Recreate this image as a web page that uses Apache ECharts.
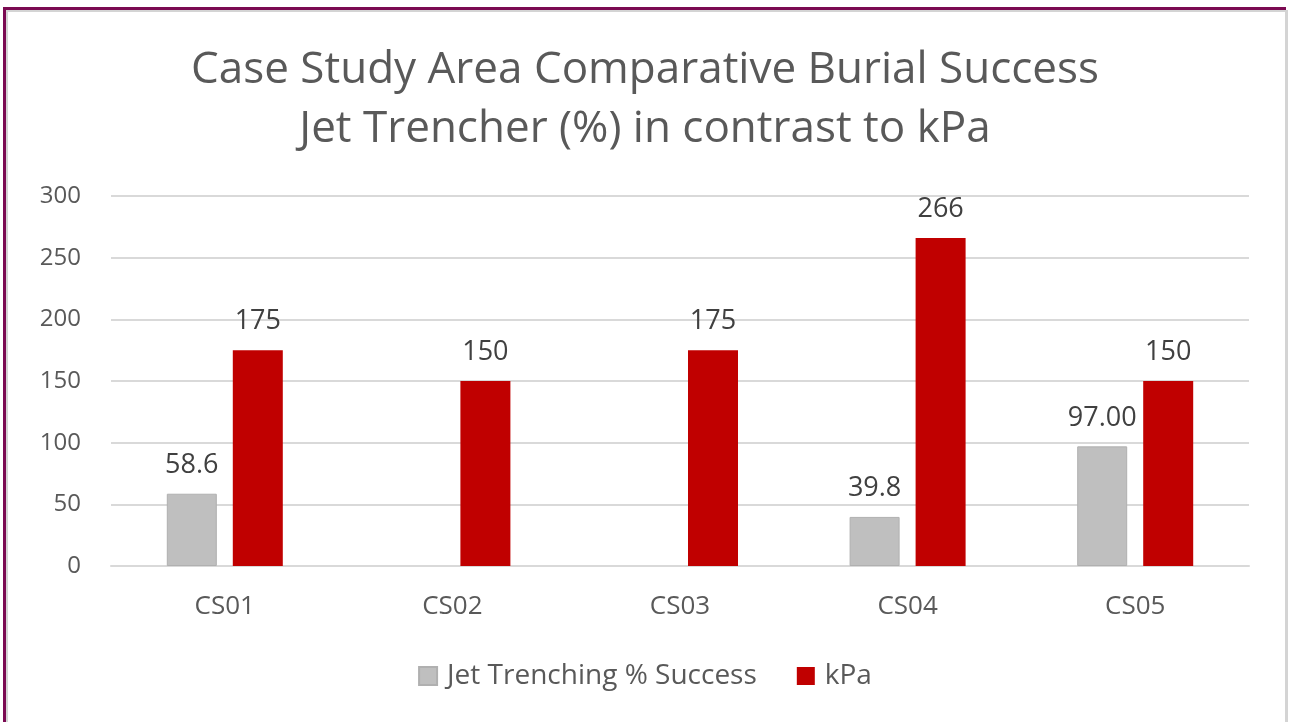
<!DOCTYPE html>
<html>
<head>
<meta charset="utf-8">
<script src="https://cdn.jsdelivr.net/npm/echarts@6/dist/echarts.min.js"></script>
<style>
  html, body { margin: 0; padding: 0; background: #fff; }
  #frame {
    position: absolute; left: 3px; top: 7px; width: 1283px; height: 720px;
    border-top: 3px solid #7b0a52; border-left: 3px solid #7b0a52;
    box-sizing: border-box;
  }
  #inner {
    position: absolute; left: 6px; top: 10px; width: 1282px; height: 712px;
    border-top: 2px solid #d4d4d4; border-left: 2px solid #d4d4d4; border-right: 3px solid #d4d4d4;
    box-sizing: border-box;
  }
  #main { position: absolute; left: 0; top: 0; width: 1290px; height: 722px; }
</style>
</head>
<body>
<div id="frame"></div>
<div id="inner"></div>
<div id="main"></div>
<script>
const categories = ["CS01", "CS02", "CS03", "CS04", "CS05"];
const jetSuccess = [58.6, null, null, 39.8, 97.0];
const jetLabels = ["58.6", "", "", "39.8", "97.00"];
const kpa = [175, 150, 175, 266, 150];

const font = "'Open Sans', 'Noto Sans', sans-serif";
const textGrey = "#595959";

const chart = echarts.init(document.getElementById("main"));

chart.setOption({
  animation: false,
  title: {
    text: "Case Study Area Comparative Burial Success\nJet Trencher (%) in contrast to kPa",
    left: "center",
    top: 36,
    textStyle: {
      fontFamily: font,
      fontSize: 44,
      fontWeight: "normal",
      color: textGrey,
      lineHeight: 59
    }
  },
  legend: {
    bottom: 27,
    left: "center",
    icon: "rect",
    itemWidth: 18,
    itemHeight: 18,
    itemGap: 40,
    textStyle: { fontFamily: font, fontSize: 28, color: textGrey, padding: [0, 0, 0, 5] },
    data: ["Jet Trenching % Success", "kPa"]
  },
  grid: { left: 111, right: 41, top: 196, bottom: 156 },
  xAxis: {
    type: "category",
    data: categories,
    axisTick: { show: false },
    axisLine: { lineStyle: { color: "#d9d9d9", width: 2 } },
    axisLabel: { fontFamily: font, fontSize: 26, color: textGrey, margin: 28 }
  },
  yAxis: {
    type: "value",
    min: 0,
    max: 300,
    interval: 50,
    axisLine: { show: false },
    axisTick: { show: false },
    splitLine: { lineStyle: { color: "#d9d9d9", width: 2 } },
    axisLabel: { fontFamily: font, fontSize: 24, color: textGrey, margin: 30 }
  },
  series: [
    {
      name: "Jet Trenching % Success",
      type: "bar",
      data: jetSuccess,
      barWidth: 50,
      barGap: "32%",
      itemStyle: { color: "#bfbfbf", borderColor: "#b0b0b0", borderWidth: 1 },
      label: {
        show: true,
        position: "top",
        distance: 15,
        fontFamily: font,
        fontSize: 27,
        color: "#404040",
        formatter: (p) => jetLabels[p.dataIndex]
      }
    },
    {
      name: "kPa",
      type: "bar",
      data: kpa,
      barWidth: 50,
      itemStyle: { color: "#c00000" },
      label: {
        show: true,
        position: "top",
        distance: 15,
        fontFamily: font,
        fontSize: 27,
        color: "#404040"
      }
    }
  ]
});
</script>
</body>
</html>
